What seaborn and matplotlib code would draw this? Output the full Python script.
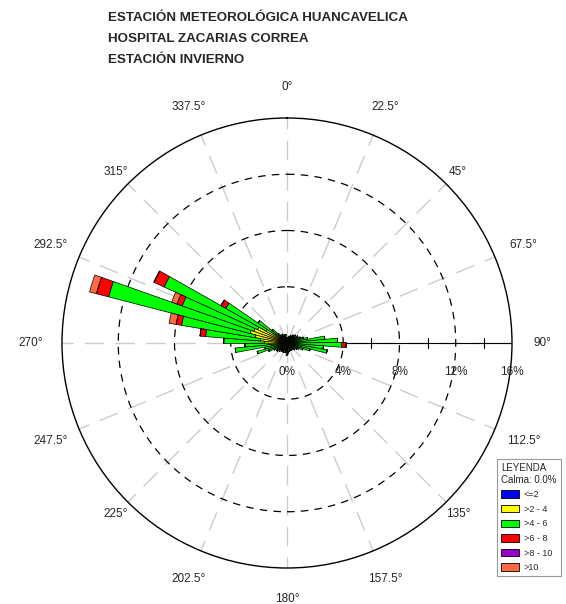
import numpy as np
import pandas as pd
import matplotlib
matplotlib.use("Agg")
import matplotlib.pyplot as plt
from matplotlib.patches import Patch
import seaborn as sns

# Direcciones (grados, cada 5 grados) y frecuencia (%) por clase de velocidad
direcciones = list(range(2, 360, 5))

vel_0_2 = [0.1] * 72

vel_2_4 = [0.1, 0.1, 0.1, 0.2, 0.1, 0.2, 0.2, 0.2, 0.2, 0.3, 0.2, 0.3,
           0.3, 0.3, 0.3, 0.4, 0.6, 0.7, 0.6, 0.5, 0.5, 0.4, 0.3, 0.3,
           0.2, 0.2, 0.2, 0.1, 0.2, 0.1, 0.2, 0.1, 0.2, 0.1, 0.2, 0.2,
           0.2, 0.2, 0.2, 0.1, 0.2, 0.2, 0.2, 0.2, 0.2, 0.2, 0.3, 0.3,
           0.3, 0.4, 0.6, 0.5, 1.0, 1.2, 1.5, 1.8, 2.2, 2.6, 2.4, 2.2,
           1.6, 0.9, 0.5, 0.3, 0.2, 0.2, 0.2, 0.1, 0.2, 0.1, 0.2, 0.1]

vel_4_6 = [0.1, 0.2, 0.1, 0.2, 0.2, 0.3, 0.2, 0.4, 0.3, 0.4, 0.4, 0.5,
           0.4, 0.6, 0.8, 1.0, 2.0, 2.8, 3.2, 2.0, 2.3, 1.2, 0.8, 0.5,
           0.5, 0.3, 0.4, 0.3, 0.3, 0.2, 0.3, 0.2, 0.3, 0.2, 0.4, 0.5,
           0.6, 0.3, 0.4, 0.3, 0.4, 0.3, 0.4, 0.3, 0.5, 0.4, 0.5, 0.4,
           0.6, 0.9, 1.5, 1.0, 2.6, 1.7, 2.9, 3.9, 5.3, 10.4, 5.4, 7.3,
           3.3, 1.5, 0.8, 0.5, 0.4, 0.3, 0.4, 0.3, 0.3, 0.2, 0.3, 0.2]

vel_6_8 = [0.0] * 18 + [0.3] + [0.0] * 36 + [0.4, 0.4, 0.9, 0.4, 0.8, 0.4] + [0.0] * 11

vel_8_10 = [0.0] * 72

vel_10 = [0.0] * 56 + [0.5, 0.5, 0.4] + [0.0] * 13

clases = ["<=2", ">2 - 4", ">4 - 6", ">6 - 8", ">8 - 10", ">10"]
colores = ["#0000ff", "#ffff00", "#00ff00", "#ff0000", "#9900cc", "#ff6a40"]
angulos = ["0", "22.5", "45", "67.5", "90", "112.5", "135", "157.5",
           "180", "202.5", "225", "247.5", "270", "292.5", "315", "337.5"]
anillos = [0, 4, 8, 12, 16]

datos = pd.DataFrame({"dir": direcciones, clases[0]: vel_0_2, clases[1]: vel_2_4,
                      clases[2]: vel_4_6, clases[3]: vel_6_8,
                      clases[4]: vel_8_10, clases[5]: vel_10})

sns.set_style("white")
plt.rcParams["font.family"] = ["Liberation Sans", "DejaVu Sans"]
paleta = sns.color_palette(colores)

fig = plt.figure(figsize=(5.66, 6.04), dpi=100)
ax = fig.add_axes([62 / 566, 36 / 604, 450 / 566, 450 / 604], projection="polar")
ax.set_theta_zero_location("N")
ax.set_theta_direction(-1)
ax.set_ylim(0, 16)
ax.grid(False)
ax.set_xticks([])
ax.set_yticks([])
ax.spines["polar"].set_linewidth(1.0)
ax.spines["polar"].set_color("black")

# lineas radiales grises y circulos punteados
th = np.linspace(0, 2 * np.pi, 400)
for a in angulos:
    t = np.deg2rad(float(a))
    ax.plot([t, t], [0, 16], color="#cccccc", lw=1.0, ls=(0, (14, 8)), zorder=1)
for r in anillos[1:-1]:
    ax.plot(th, np.full_like(th, r), color="black", lw=0.9, ls=(0, (6, 5)), zorder=1)
ax.plot([np.pi / 2, np.pi / 2], [0, 16], color="black", lw=0.8, zorder=1)
ax.plot([np.pi / 2] * 4, [2, 6, 10, 14], ls="none", marker="|", ms=7,
        color="black", mew=0.8, zorder=1)

# barras apiladas
theta = np.deg2rad(datos["dir"].values)
base = np.zeros(len(datos))
for c, col in zip(clases, paleta):
    v = datos[c].values
    ax.bar(theta, v, width=np.deg2rad(5.0), bottom=base, color=col,
           edgecolor="black", linewidth=0.5, zorder=3)
    base = base + v

# etiquetas de direccion
for a in angulos:
    ang = float(a)
    rr = 17.2 if ang % 90 == 45 else 18.2
    ax.text(np.deg2rad(ang), rr, a + "°", ha="center", va="center",
            fontsize=8.5, clip_on=False)

# etiquetas de porcentaje
for r in anillos:
    ax.annotate(f"{r}%", xy=(np.pi / 2, r), xytext=(0, -29),
                textcoords="offset pixels", ha="center", va="center", fontsize=8.5)

# titulo
titulos = ["ESTACIÓN METEOROLÓGICA HUANCAVELICA", "HOSPITAL ZACARIAS CORREA",
           "ESTACIÓN INVIERNO"]
for i, t in enumerate(titulos):
    fig.text(108 / 566, 1 - (18 + 21 * i) / 604, t, ha="left", va="center",
             fontsize=9.6, fontweight="bold")

# leyenda
manijas = [Patch(facecolor=col, edgecolor="black", linewidth=0.6) for col in paleta]
leg = fig.legend(manijas, clases, loc="upper left",
                 bbox_to_anchor=(497 / 566, 1 - 459 / 604),
                 title="LEYENDA\nCalma: 0.0%", fontsize=6.5, title_fontsize=7,
                 frameon=True, fancybox=False, edgecolor="#808080",
                 handlelength=2.0, handleheight=0.9, labelspacing=0.62,
                 handletextpad=0.5, borderpad=0.45, borderaxespad=0,
                 alignment="left")
leg.get_frame().set_linewidth(0.8)

fig.savefig("out.png", dpi=100)
